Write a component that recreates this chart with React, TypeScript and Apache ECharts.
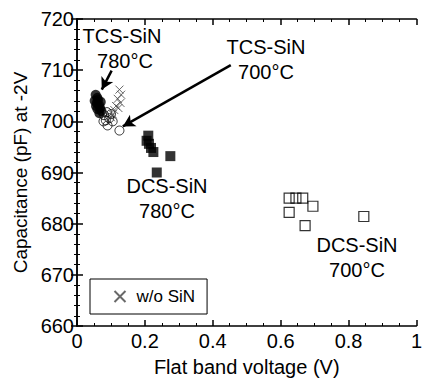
import React, { useEffect, useRef } from "react";
import * as echarts from "echarts";

const tcs780: [number, number][] = [
  [0.055, 705.2], [0.06, 704.6], [0.052, 704.0], [0.058, 703.6], [0.062, 704.2],
  [0.065, 703.2], [0.068, 702.6], [0.07, 703.8], [0.056, 703.0], [0.072, 702.0],
  [0.066, 701.6], [0.06, 702.4],
];
const tcs700: [number, number][] = [
  [0.08, 701.2], [0.085, 700.2], [0.09, 699.2], [0.095, 700.6], [0.1, 701.4],
  [0.088, 701.8], [0.105, 700.0], [0.125, 698.2], [0.078, 700.0],
];
const woSiN: [number, number][] = [
  [0.125, 706.2], [0.13, 705.2], [0.12, 704.4], [0.128, 703.6], [0.115, 703.0],
  [0.11, 702.2], [0.105, 701.4], [0.122, 702.6], [0.1, 700.8],
];
const dcs780: [number, number][] = [
  [0.21, 697.2], [0.205, 696.2], [0.212, 695.6], [0.218, 694.8], [0.225, 694.0],
  [0.275, 693.2], [0.235, 690.0],
];
const dcs700: [number, number][] = [
  [0.625, 685.0], [0.645, 685.0], [0.665, 685.0], [0.625, 682.2], [0.695, 683.4],
  [0.672, 679.6], [0.845, 681.4],
];

const xTicks = { min: 0, max: 1, interval: 0.2 };
const yTicks = { min: 660, max: 720, interval: 10 };

const FONT = "'Liberation Sans', Arial, Helvetica, sans-serif";
const crossPath = "path://M0,0L10,10M10,0L0,10";

export default function App() {
  const ref = useRef<HTMLDivElement>(null);
  useEffect(() => {
    if (!ref.current) return;
    const chart = echarts.init(ref.current, null, { renderer: "svg" });
    const axisCommon = {
      axisLine: { show: true, lineStyle: { color: "#000", width: 1.5 } },
      axisTick: { show: true, inside: true, length: 6, lineStyle: { color: "#000", width: 1.5 } },
      minorTick: { show: true, length: 3, lineStyle: { color: "#000", width: 1 } },
      splitLine: { show: false },
    };
    const annText = (text: string, x: number, y: number) => ({
      type: "text",
      x,
      y,
      style: { text, fill: "#000", font: `20px ${FONT}`, textAlign: "center", textVerticalAlign: "middle" },
    });
    chart.setOption({
      animation: false,
      backgroundColor: "#fff",
      grid: { left: 77, right: 7, top: 19, bottom: 54 },
      xAxis: [
        {
          type: "value", ...xTicks, position: "bottom",
          ...axisCommon,
          minorTick: { ...axisCommon.minorTick, splitNumber: 4 },
          axisLabel: { color: "#000", fontSize: 20, fontFamily: FONT, margin: 5,
            formatter: (v: number) => (v === 0 ? "0" : v === 1 ? "1" : String(v)) },
          name: "Flat band voltage (V)", nameLocation: "middle", nameGap: 31,
          nameTextStyle: { color: "#000", fontSize: 20, fontFamily: FONT },
        },
        {
          type: "value", ...xTicks, position: "top",
          ...axisCommon,
          minorTick: { ...axisCommon.minorTick, splitNumber: 4 },
          axisLabel: { show: false },
        },
      ],
      yAxis: [
        {
          type: "value", ...yTicks, position: "left",
          ...axisCommon,
          minorTick: { ...axisCommon.minorTick, splitNumber: 5 },
          axisLabel: { color: "#000", fontSize: 20, fontFamily: FONT, margin: 3 },
          name: "Capacitance (pF) at -2V", nameLocation: "middle", nameGap: 47,
          nameTextStyle: { color: "#000", fontSize: 19, fontFamily: FONT },
        },
        {
          type: "value", ...yTicks, position: "right",
          ...axisCommon,
          minorTick: { ...axisCommon.minorTick, splitNumber: 5 },
          axisLabel: { show: false },
        },
      ],
      legend: {
        data: ["w/o SiN"],
        left: 90, top: 279,
        orient: "horizontal",
        borderColor: "#000", borderWidth: 1,
        padding: [9, 12, 9, 22],
        itemWidth: 11, itemHeight: 11, itemGap: 8,
        textStyle: { color: "#000", fontSize: 17, fontFamily: FONT, padding: [0, 0, 0, 6] },
      },
      series: [
        {
          name: "TCS-SiN 780°C", type: "scatter", data: tcs780,
          symbol: "circle", symbolSize: 10,
          itemStyle: { color: "#000" },
        },
        {
          name: "TCS-SiN 700°C", type: "scatter", data: tcs700,
          symbol: "circle", symbolSize: 9,
          itemStyle: { color: "rgba(0,0,0,0)", borderColor: "#000", borderWidth: 1 },
        },
        {
          name: "w/o SiN", type: "scatter", data: woSiN,
          symbol: crossPath, symbolSize: 8,
          itemStyle: { color: "none", borderColor: "#444", borderWidth: 1 },
        },
        {
          name: "DCS-SiN 780°C", type: "scatter", data: dcs780,
          symbol: "rect", symbolSize: 10,
          itemStyle: { color: "#000" },
        },
        {
          name: "DCS-SiN 700°C", type: "scatter", data: dcs700,
          symbol: "rect", symbolSize: 10,
          itemStyle: { color: "rgba(0,0,0,0)", borderColor: "#000", borderWidth: 1.2 },
        },
        {
          name: "arrows", type: "line", data: [],
          markLine: {
            silent: true,
            symbol: ["none", "arrow"],
            symbolSize: [10, 12],
            label: { show: false },
            lineStyle: { color: "#000", width: 2.5, type: "solid" },
            data: [
              [{ coord: [0.102, 709.9] }, { coord: [0.073, 706.2] }],
              [{ coord: [0.453, 711.0] }, { coord: [0.135, 699.0] }],
            ],
          },
        },
      ],
      graphic: [
        annText("TCS-SiN", 122, 36),
        annText("780°C", 125, 61),
        annText("TCS-SiN", 266, 47),
        annText("700°C", 266, 72),
        annText("DCS-SiN", 167, 186),
        annText("780°C", 167, 211),
        annText("DCS-SiN", 357, 245),
        annText("700°C", 357, 270),
      ],
    });
    return () => chart.dispose();
  }, []);
  return <div ref={ref} style={{ position: "absolute", left: 0, top: 0, width: 425, height: 382 }} />;
}
